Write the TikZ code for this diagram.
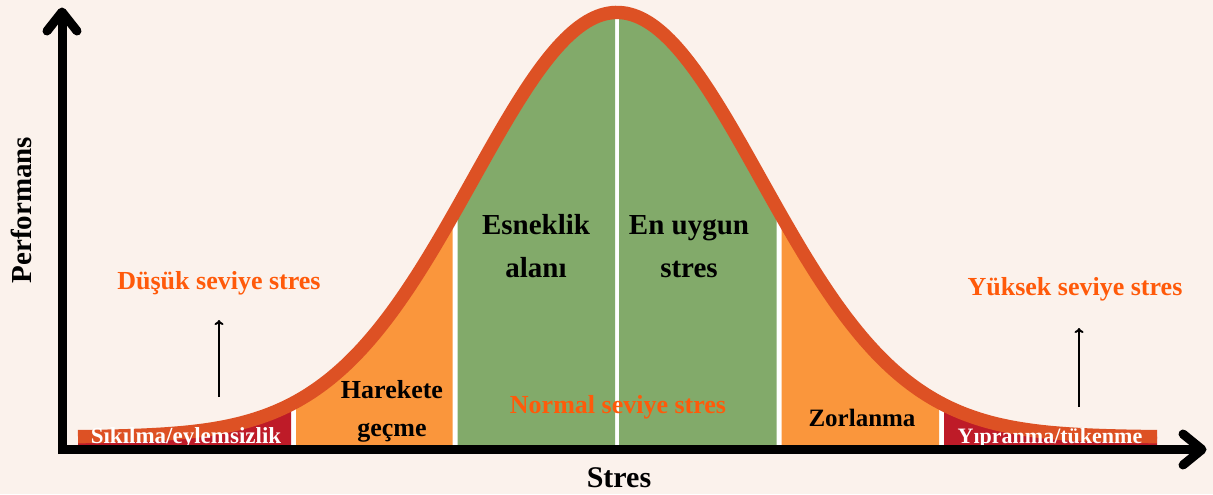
\documentclass[tikz,border=0pt]{standalone}
\usepackage{fontspec}
\setmainfont{Liberation Serif}
\usetikzlibrary{arrows.meta}
\definecolor{bg}{RGB}{251,242,236}
\definecolor{curvecol}{RGB}{221,81,36}
\definecolor{orangefill}{RGB}{250,150,60}
\definecolor{greenfill}{RGB}{130,170,106}
\definecolor{redfill}{RGB}{190,27,40}
\definecolor{labelorange}{RGB}{255,90,10}
\begin{document}
\begin{tikzpicture}[x=0.5pt,y=-0.5pt,
  declare function={gy(\t)=437-424.5*exp(-0.5*((\t-617)/144)^2);},
  lbl/.style 2 args={font=\bfseries\fontsize{#1}{#2}\selectfont, inner sep=0pt, anchor=base, align=center},
  axisline/.style={line width=4.5pt, black},
  axishead/.style={line width=4.5pt, black, line cap=round, line join=round},
  smallarrow/.style={line width=1pt, black, -{To[length=2.5pt,width=4.5pt]}},
  bell/.style={line width=6.7pt, curvecol, line cap=butt}
]
\useasboundingbox (0,0) rectangle (1213,494);
\fill[bg] (0,0) rectangle (1213,494);

% area under the curve
\fill[white] plot[domain=78:1157,samples=300] (\x,{gy(\x)}) -- (1157,449) -- (78,449) -- cycle;
\fill[redfill] plot[domain=78:291,samples=60] (\x,{gy(\x)}) -- (291,449) -- (78,449) -- cycle;
\fill[orangefill] plot[domain=296:452.5,samples=60] (\x,{gy(\x)}) -- (452.5,449) -- (296,449) -- cycle;
\fill[greenfill] plot[domain=457.5:615,samples=60] (\x,{gy(\x)}) -- (615,449) -- (457.5,449) -- cycle;
\fill[greenfill] plot[domain=619:776.5,samples=60] (\x,{gy(\x)}) -- (776.5,449) -- (619,449) -- cycle;
\fill[orangefill] plot[domain=781.5:939,samples=60] (\x,{gy(\x)}) -- (939,449) -- (781.5,449) -- cycle;
\fill[redfill] plot[domain=944:1157,samples=60] (\x,{gy(\x)}) -- (1157,449) -- (944,449) -- cycle;

% bell curve
\draw[bell] plot[domain=78:1157,samples=300] (\x,{gy(\x)});

% labels (multi-line nodes are anchored at the baseline of their last line)
\node[lbl={13}{19}, text=labelorange] (low) at (219,289) {Düşük seviye stres};
\node[lbl={13}{19}, text=labelorange] (high) at (1075,295) {Yüksek seviye stres};
\node[lbl={13}{19}, text=labelorange] (normal) at (618,413) {Normal seviye stres};
\node[lbl={14.5}{21.5}] (esnek) at (536,277) {Esneklik\\alanı};
\node[lbl={14.5}{21.5}] (uygun) at (689,277) {En uygun\\stres};
\node[lbl={13}{19}] (hareket) at (392,436) {Harekete\\geçme};
\node[lbl={12.5}{18}] (zor) at (862,426) {Zorlanma};
\node[lbl={11.5}{16}, text=white] (sik) at (186,443) {Sıkılma/eylemsizlik};
\node[lbl={11}{16}, text=white] (yip) at (1050,443) {Yıpranma/tükenme};
\node[lbl={14.5}{20}, rotate=90] (perf) at (32,210) {Performans};
\node[lbl={15}{20}] (stres) at (619,487) {Stres};

% small arrows
\coordinate (la0) at (219,397);
\coordinate (la1) at (219,320);
\coordinate (ra0) at (1079,407);
\coordinate (ra1) at (1079,328);
\draw[smallarrow] (la0) -- (la1);
\draw[smallarrow] (ra0) -- (ra1);

% axes
\coordinate (ybot) at (62,454);
\coordinate (ytop) at (62,12);
\coordinate (yl) at (47,31);
\coordinate (yr) at (77,31);
\coordinate (xstart) at (58,449.5);
\coordinate (xend) at (1202,449.5);
\coordinate (xu) at (1183,434);
\coordinate (xd) at (1183,465);
\draw[axisline] (ybot) -- (ytop);
\draw[axisline] (xstart) -- (xend);
\draw[axishead] (yl) -- (ytop) -- (yr);
\draw[axishead] (xu) -- (xend) -- (xd);
\end{tikzpicture}
\end{document}
